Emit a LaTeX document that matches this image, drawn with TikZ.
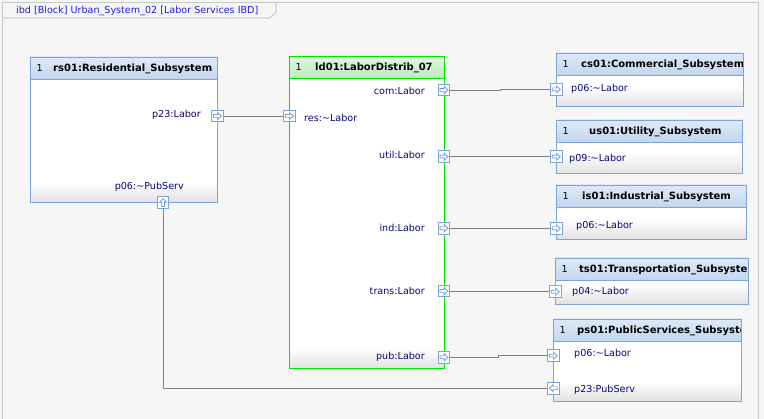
\documentclass[tikz,border=0pt]{standalone}
\usepackage{fontspec}
\setmainfont{DejaVu Sans}
\usetikzlibrary{calc}
\definecolor{ibdBack}{RGB}{246,246,246}
\definecolor{ibdFrame}{RGB}{200,200,200}
\definecolor{ibdTitle}{RGB}{30,30,230}
\definecolor{blkEdge}{RGB}{122,164,218}
\definecolor{blkTop}{RGB}{222,234,248}
\definecolor{blkBot}{RGB}{194,214,239}
\definecolor{grnEdge}{RGB}{0,228,0}
\definecolor{grnTop}{RGB}{224,248,224}
\definecolor{grnBot}{RGB}{188,236,188}
\definecolor{bodyFade}{RGB}{226,226,226}
\definecolor{portText}{RGB}{8,8,120}
\definecolor{wireGray}{RGB}{128,128,128}

% block: name, left, top, right, bottom, edge colour, header colour, name x, name text
\newcommand{\ibdblock}[9]{%
  \fill[white] (#2,#3) rectangle (#4,#5);
  \shade[top color=white,bottom color=bodyFade] (#2,#5-20) rectangle (#4,#5);
  \shade[top color=#7Top,bottom color=#7Bot] (#2,#3) rectangle (#4,#3+22);
  \draw[#6,line width=0.9pt] (#2,#3+22) -- (#4,#3+22);
  \node[draw=#6,line width=0.9pt,inner sep=0pt,anchor=north west,
        minimum width=#4-#2,minimum height=#5-#3] (#1) at (#2,#3) {};
  \node[bnum] (#1n) at (#2+6.5,#3+11.5) {1};
  \begin{scope}
    \clip (#2,#3) rectangle (#4-1,#3+22);
    \node[bname] (#1t) at (#8,#3+11.5) {#9};
  \end{scope}
}
% small arrow inside a port box
\newcommand{\portarrow}[2]{%
  \draw[portarrow,shift={(#1.center)},rotate=#2]
    (-4,-1.4) -- (0.3,-1.4) -- (0.3,-3.6) -- (4,0) -- (0.3,3.6) -- (0.3,1.4) -- (-4,1.4) -- cycle;}

\begin{document}
\begin{tikzpicture}[x=1pt,y=-1pt,
  wire/.style={draw=wireGray,line width=0.9pt},
  port/.style={draw=blkEdge,fill=white,line width=0.9pt,minimum size=11.5pt,inner sep=0pt},
  portarrow/.style={draw=blkEdge!90!blue,line width=0.7pt,line join=miter},
  plabel/.style={text=portText,font=\fontsize{9.6}{11}\selectfont,inner sep=0pt},
  bname/.style={font=\bfseries\fontsize{10}{12}\selectfont,inner sep=0pt,anchor=west},
  bnum/.style={font=\fontsize{9.6}{11}\selectfont,inner sep=0pt,anchor=west}
]
  \fill[ibdBack] (0,0) rectangle (764,419);
  \useasboundingbox (0,0) rectangle (764,419);

  % frame and tab
  \draw[ibdFrame,line width=1pt] (2.5,419) -- (2.5,3) -- (758.5,3) -- (758.5,419);
  \draw[ibdFrame,line width=1pt] (2.5,18) -- (270,18) -- (276,12) -- (276,3);
  \node[font=\fontsize{9.6}{11}\selectfont,text=ibdTitle,anchor=west,inner sep=0pt] (diagTitle)
    at (16,10.5) {ibd [Block] Urban\_System\_02 [Labor Services IBD]};

  % blocks
  \ibdblock{rs01}{30}{57}{217}{202}{blkEdge}{blk}{53}{rs01:Residential\_Subsystem}
  \ibdblock{ld01}{289}{56}{444}{368}{grnEdge}{grn}{315}{ld01:LaborDistrib\_07}
  \ibdblock{cs01}{556}{53}{743}{106}{blkEdge}{blk}{581}{cs01:Commercial\_Subsystem}
  \ibdblock{us01}{556}{120}{742}{173}{blkEdge}{blk}{589}{us01:Utility\_Subsystem}
  \ibdblock{is01}{556}{185}{746}{239}{blkEdge}{blk}{582}{is01:Industrial\_Subsystem}
  \ibdblock{ts01}{555}{258}{748}{304}{blkEdge}{blk}{579}{ts01:Transportation\_Subsystem}
  \ibdblock{ps01}{553}{319}{741}{401}{blkEdge}{blk}{577}{ps01:PublicServices\_Subsystem}

  % ports
  \node[port] (rsP23) at (217.5,116) {};
  \node[port] (rsP06) at (163,202.5) {};
  \node[port] (ldRes) at (289.3,116) {};
  \node[port] (ldCom) at (444,90) {};
  \node[port] (ldUtil) at (444,156.7) {};
  \node[port] (ldInd) at (444,228.3) {};
  \node[port] (ldTrans) at (444,291) {};
  \node[port] (ldPub) at (444,357.3) {};
  \node[port] (csP06) at (556.3,89.3) {};
  \node[port] (usP09) at (556.3,156.7) {};
  \node[port] (isP06) at (556.3,228.3) {};
  \node[port] (tsP04) at (555.3,291.7) {};
  \node[port] (psP06) at (553.3,355.7) {};
  \node[port] (psP23) at (553.3,388.3) {};
  \foreach \p in {rsP23,ldRes,ldCom,ldUtil,ldInd,ldTrans,ldPub,csP06,usP09,isP06,tsP04,psP06}
    {\portarrow{\p}{0}}
  \portarrow{rsP06}{90}
  \portarrow{psP23}{180}

  % port labels
  \node[plabel,anchor=east] (rsP23l) at (201,115) {p23:Labor};
  \node[plabel,anchor=east] (rsP06l) at (184,186.5) {p06:\textasciitilde PubServ};
  \node[plabel,anchor=west] (ldResl) at (304,118) {res:\textasciitilde Labor};
  \node[plabel,anchor=east] (ldComl) at (425,91) {com:Labor};
  \node[plabel,anchor=east] (ldUtill) at (425,155) {util:Labor};
  \node[plabel,anchor=east] (ldIndl) at (425,228) {ind:Labor};
  \node[plabel,anchor=east] (ldTransl) at (425,291) {trans:Labor};
  \node[plabel,anchor=east] (ldPubl) at (425,357) {pub:Labor};
  \node[plabel,anchor=west] (csP06l) at (571,89) {p06:\textasciitilde Labor};
  \node[plabel,anchor=west] (usP09l) at (569,159) {p09:\textasciitilde Labor};
  \node[plabel,anchor=west] (isP06l) at (576,226) {p06:\textasciitilde Labor};
  \node[plabel,anchor=west] (tsP04l) at (572,292) {p04:\textasciitilde Labor};
  \node[plabel,anchor=west] (psP06l) at (574,354) {p06:\textasciitilde Labor};
  \node[plabel,anchor=west] (psP23l) at (574,390) {p23:PubServ};

  % connectors
  \draw[wire] (rsP23.east) -- (ldRes.west);
  \draw[wire] (ldCom.east) -- ++(50,0) |- (csP06.west);
  \draw[wire] (ldUtil.east) -- (usP09.west);
  \draw[wire] (ldInd.east) -- ++(50,0) |- (isP06.west);
  \draw[wire] (ldTrans.east) -- ++(50,0) |- (tsP04.west);
  \draw[wire] (ldPub.east) -- ++(48,0) |- (psP06.west);
  \draw[wire] (rsP06.south) |- (psP23.west);
\end{tikzpicture}
\end{document}
